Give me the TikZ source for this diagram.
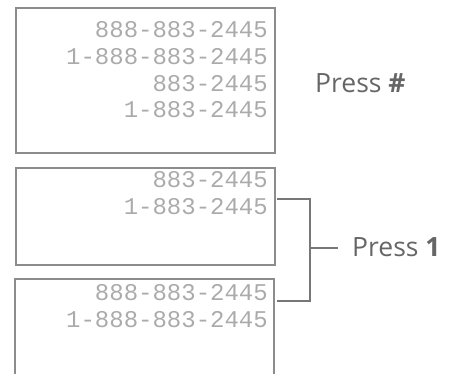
\documentclass[tikz,border=0pt]{standalone}
\usepackage{fontspec}
\setmainfont{Open Sans}
\newfontfamily\lcdfont{Liberation Mono}
\usetikzlibrary{positioning, calc}
\definecolor{framegray}{HTML}{8C8C8C}
\definecolor{lcdgray}{HTML}{ABABAB}
\definecolor{bracegray}{HTML}{777777}
\definecolor{labelgray}{HTML}{666666}

\begin{document}
\begin{tikzpicture}[
  x=1pt, y=-1pt,
  screen/.style={draw=framegray, line width=1.8pt, inner sep=0pt,
                 minimum width=259pt, anchor=north west},
  lcd/.style={anchor=base east, inner sep=0pt, text=lcdgray,
              font=\lcdfont\fontsize{24}{26}\selectfont},
  press/.style={anchor=base west, inner sep=0pt, text=labelgray,
                font=\fontsize{26.5}{28}\selectfont},
  brace/.style={draw=bracegray, line width=2.8pt}
]
\useasboundingbox (0,0) rectangle (456,374);

% first screen
\node[screen, minimum height=145pt] (scr1) at (15,7) {};
\node[lcd] (l11) at (268,38) {888-883-2445};
\node[lcd] (l12) at (268,65) {1-888-883-2445};
\node[lcd] (l13) at (268,92) {883-2445};
\node[lcd] (l14) at (268,118) {1-883-2445};
\node[press] (presshash) at (315,93) {Press \textbf{\#}};

% second screen
\node[screen, minimum height=97pt] (scr2) at (15,167) {};
\node[lcd] (l21) at (268,188) {883-2445};
\node[lcd] (l22) at (268,215) {1-883-2445};

% third screen, cut off below
\coordinate (s3bl) at (15,376);
\coordinate (s3tl) at (15,279);
\coordinate (s3tr) at (274,279);
\coordinate (s3br) at (274,376);
\draw[draw=framegray, line width=1.8pt] (s3bl) -- (s3tl) -- (s3tr) -- (s3br);
\node[lcd] (l31) at (268,301) {888-883-2445};
\node[lcd] (l32) at (268,328) {1-888-883-2445};

% bracket
\coordinate (brtop) at (277,199);
\coordinate (brbot) at (277,301);
\coordinate (brmid) at (310,248);
\node[press] (pressone) at (352,257) {Press \textbf{1}};
\draw[brace] (brtop) -| (brmid) |- (brbot);
\draw[brace] (brmid) -- ([xshift=-14pt]pressone.west |- brmid);
\end{tikzpicture}
\end{document}
